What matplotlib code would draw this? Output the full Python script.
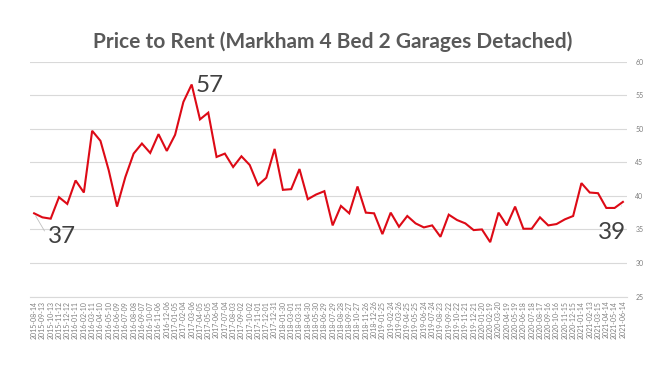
import matplotlib

matplotlib.use("Agg")

import matplotlib.pyplot as plt


# 30-day sample dates shown as category labels
DATE_LABELS = [
    "2015-08-14", "2015-09-13", "2015-10-13", "2015-11-12", "2015-12-12", "2016-01-11",
    "2016-02-10", "2016-03-11", "2016-04-10", "2016-05-10", "2016-06-09", "2016-07-09",
    "2016-08-08", "2016-09-07", "2016-10-07", "2016-11-06", "2016-12-06", "2017-01-05",
    "2017-02-04", "2017-03-06", "2017-04-05", "2017-05-05", "2017-06-04", "2017-07-04",
    "2017-08-03", "2017-09-02", "2017-10-02", "2017-11-01", "2017-12-01", "2017-12-31",
    "2018-01-30", "2018-03-01", "2018-03-31", "2018-04-30", "2018-05-30", "2018-06-29",
    "2018-07-29", "2018-08-28", "2018-09-27", "2018-10-27", "2018-11-26", "2018-12-26",
    "2019-01-25", "2019-02-24", "2019-03-26", "2019-04-25", "2019-05-25", "2019-06-24",
    "2019-07-24", "2019-08-23", "2019-09-22", "2019-10-22", "2019-11-21", "2019-12-21",
    "2020-01-20", "2020-02-19", "2020-03-20", "2020-04-19", "2020-05-19", "2020-06-18",
    "2020-07-18", "2020-08-17", "2020-09-16", "2020-10-16", "2020-11-15", "2020-12-15",
    "2021-01-14", "2021-02-13", "2021-03-15", "2021-04-14", "2021-05-14", "2021-06-14",
]

PRICE_TO_RENT = [
    37.4, 36.8, 36.6, 39.8, 38.8, 42.3, 40.5, 49.7, 48.2, 43.8, 38.4, 42.8,
    46.3, 47.8, 46.4, 49.2, 46.7, 49.1, 54.0, 56.6, 51.4, 52.4, 45.8, 46.3,
    44.3, 45.9, 44.6, 41.6, 42.7, 47.0, 40.9, 41.0, 44.0, 39.5, 40.2, 40.7,
    35.6, 38.5, 37.4, 41.4, 37.5, 37.4, 34.3, 37.5, 35.4, 37.0, 35.9, 35.3,
    35.6, 33.9, 37.2, 36.4, 35.9, 34.9, 35.0, 33.1, 37.5, 35.6, 38.4, 35.1,
    35.1, 36.8, 35.6, 35.8, 36.5, 37.0, 41.9, 40.5, 40.4, 38.2, 38.2, 39.1,
]

Y_TICKS = [25, 30, 35, 40, 45, 50, 55, 60]

TITLE = "Price to Rent (Markham 4 Bed 2 Garages Detached)"

LINE_COLOR = "#DD0A16"
GRID_COLOR = "#D9D9D9"
TICK_COLOR = "#7F7F7F"
TEXT_COLOR = "#404040"
LEADER_COLOR = "#BFBFBF"

plt.rcParams["font.family"] = ["Lato", "DejaVu Sans"]

fig = plt.figure(figsize=(6.66, 3.75), dpi=100)
ax = fig.add_axes([0.045, 0.2093, 0.8965, 0.6262])

x = list(range(len(PRICE_TO_RENT)))
ax.plot(x, PRICE_TO_RENT, color=LINE_COLOR, linewidth=1.5, solid_joinstyle="miter", zorder=3)

ax.set_xlim(-0.5, len(PRICE_TO_RENT) - 0.5)
ax.set_ylim(Y_TICKS[0], Y_TICKS[-1])
ax.set_yticks(Y_TICKS)
ax.yaxis.tick_right()
ax.tick_params(axis="y", length=0, labelsize=5, labelcolor=TICK_COLOR, pad=6)
ax.set_xticks(x)
ax.set_xticklabels(DATE_LABELS, rotation=90, fontsize=5, color=TICK_COLOR)
ax.tick_params(axis="x", length=0, pad=3)

ax.grid(True, axis="y", color=GRID_COLOR, linewidth=0.8)
for side in ("top", "left", "right"):
    ax.spines[side].set_visible(False)
ax.spines["bottom"].set_color(GRID_COLOR)
ax.spines["bottom"].set_linewidth(0.8)

# data labels: first, peak, last
first_i = 0
peak_i = PRICE_TO_RENT.index(max(PRICE_TO_RENT))
last_i = len(PRICE_TO_RENT) - 1

ax.annotate(
    f"{PRICE_TO_RENT[first_i]:.0f}",
    xy=(first_i, PRICE_TO_RENT[first_i]),
    xytext=(10, -17),
    textcoords="offset points",
    ha="left",
    va="center",
    fontsize=17.5,
    color=TEXT_COLOR,
    arrowprops=dict(arrowstyle="-", color=LEADER_COLOR, linewidth=0.6, shrinkA=1, shrinkB=2,
                    relpos=(0.0, 0.5)),
)
ax.text(peak_i + 0.45, PRICE_TO_RENT[peak_i] - 0.2, f"{PRICE_TO_RENT[peak_i]:.0f}",
        ha="left", va="center", fontsize=17.5, color=TEXT_COLOR)
ax.annotate(
    f"{PRICE_TO_RENT[last_i]:.0f}",
    xy=(last_i, PRICE_TO_RENT[last_i]),
    xytext=(2, -22),
    textcoords="offset points",
    ha="right",
    va="center",
    fontsize=17.5,
    color=TEXT_COLOR,
    arrowprops=dict(arrowstyle="-", color=LEADER_COLOR, linewidth=0.6, shrinkA=10, shrinkB=3),
)

fig.text(0.5, 0.888, TITLE, ha="center", va="center", fontsize=15, fontweight="bold",
         color="#595959")

fig.savefig("out.png", dpi=100)
plt.close(fig)
